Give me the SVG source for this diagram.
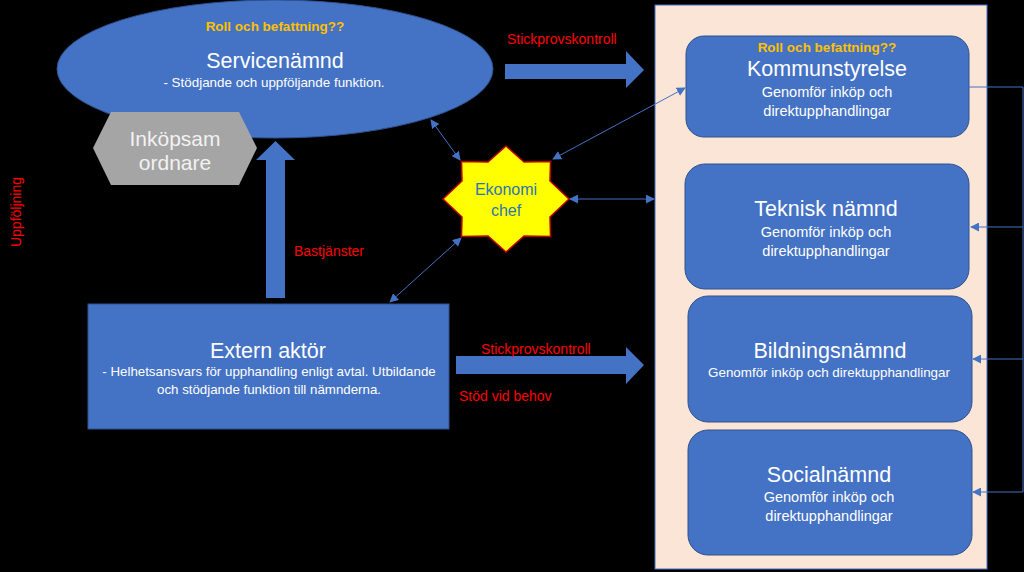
<svg xmlns="http://www.w3.org/2000/svg" width="1024" height="572" viewBox="0 0 1024 572">
<defs>
<style>
text{font-family:"Liberation Sans",Arial,sans-serif}
.w{fill:#ffffff}
.red{fill:#ff0000;font-size:14px}
.gold{fill:#ffc000;font-weight:bold;font-size:13.5px}
.title{font-size:21.5px}
.sub{font-size:14.5px}
.box{fill:#4472c4;stroke:#2f528f;stroke-width:1}
.conn{fill:none;stroke:#4472c4;stroke-width:1}
.block{fill:#4472c4}
</style>
<marker id="ah" viewBox="0 0 10 10" refX="9" refY="5" markerWidth="9" markerHeight="9" markerUnits="userSpaceOnUse" orient="auto-start-reverse">
<path d="M0,0 L10,5 L0,10 z" fill="#4472c4"/>
</marker>
</defs>
<rect x="0" y="0" width="1024" height="572" fill="#000000"/>

<g id="container">
<rect x="655" y="5" width="332" height="564" fill="#fbe5d6" stroke="#4472c4" stroke-width="1"/>
</g>

<g id="servicenamnd">
<ellipse cx="275" cy="69" rx="218" ry="69" class="box"/>
<text x="275" y="31" text-anchor="middle" class="gold">Roll och befattning??</text>
<text x="275" y="68" text-anchor="middle" class="w title">Servicenämnd</text>
<text x="274" y="87" text-anchor="middle" class="w" font-size="13.4">- Stödjande och uppföljande funktion.</text>
</g>

<g id="inkopsamordnare">
<polygon points="93,148 111,112 239,112 257,148 239,185 111,185" fill="#a5a5a5"/>
<text x="175" y="146" text-anchor="middle" fill="#f2f2f2" font-size="21">Inköpsam</text>
<text x="175" y="170" text-anchor="middle" fill="#f2f2f2" font-size="21">ordnare</text>
</g>

<g id="externaktor">
<rect x="88" y="304" width="361" height="125" class="box"/>
<text x="268" y="358" text-anchor="middle" class="w title">Extern aktör</text>
<text x="269" y="376" text-anchor="middle" class="w" font-size="13.3">- Helhetsansvars för upphandling enligt avtal. Utbildande</text>
<text x="269" y="394" text-anchor="middle" class="w" font-size="13.3">och stödjande funktion till nämnderna.</text>
</g>

<g id="ekonomichef">
<polygon points="506,146 524,162 550.5,161.5 550,181 569,199 550,217 550.5,236.5 524,236 506,252 488,236 461.5,236.5 462,217 443,199 462,181 461.5,161.5 488,162" fill="#ffff00" stroke="#c00000" stroke-width="1.5"/>
<text x="506" y="195" text-anchor="middle" fill="#2e75b6" font-size="16">Ekonomi</text>
<text x="506" y="216" text-anchor="middle" fill="#2e75b6" font-size="16">chef</text>
</g>

<g id="kommunstyrelse">
<rect x="686" y="36" width="283" height="101" rx="18" class="box"/>
<text x="827" y="52" text-anchor="middle" class="gold">Roll och befattning??</text>
<text x="827" y="76" text-anchor="middle" class="w title">Kommunstyrelse</text>
<text x="827" y="97" text-anchor="middle" class="w sub">Genomför inköp och</text>
<text x="827" y="116" text-anchor="middle" class="w sub">direktupphandlingar</text>
</g>

<g id="tekniskNamnd">
<rect x="685" y="164" width="284" height="125" rx="20" class="box"/>
<text x="826" y="216" text-anchor="middle" class="w title">Teknisk nämnd</text>
<text x="826" y="237" text-anchor="middle" class="w sub">Genomför inköp och</text>
<text x="826" y="256" text-anchor="middle" class="w sub">direktupphandlingar</text>
</g>

<g id="bildningsnamnd">
<rect x="688" y="296" width="284" height="126" rx="20" class="box"/>
<text x="830" y="358" text-anchor="middle" class="w title">Bildningsnämnd</text>
<text x="829" y="377" text-anchor="middle" class="w" font-size="13.4">Genomför inköp och direktupphandlingar</text>
</g>

<g id="socialnamnd">
<rect x="688" y="430" width="284" height="125" rx="20" class="box"/>
<text x="829" y="482" text-anchor="middle" class="w title">Socialnämnd</text>
<text x="829" y="502" text-anchor="middle" class="w sub">Genomför inköp och</text>
<text x="829" y="521" text-anchor="middle" class="w sub">direktupphandlingar</text>
</g>

<g id="connectors">
<polygon class="block" points="266,298 266,160 256,160 275.5,141 295,160 285,160 285,298"/>
<polygon class="block" points="505,64 626,64 626,51 644,70 626,88 626,79 505,79"/>
<polygon class="block" points="456,356 626,356 626,347 644,365 626,384 626,374 456,374"/>
<line class="conn" x1="431" y1="120" x2="460" y2="160" marker-start="url(#ah)" marker-end="url(#ah)"/>
<line class="conn" x1="685" y1="88" x2="553" y2="159" marker-start="url(#ah)" marker-end="url(#ah)"/>
<line class="conn" x1="570" y1="199" x2="654" y2="199" marker-start="url(#ah)" marker-end="url(#ah)"/>
<line class="conn" x1="461" y1="238" x2="390" y2="302" marker-start="url(#ah)" marker-end="url(#ah)"/>
<polyline class="conn" points="969,87 1023,87 1023,492"/>
<line class="conn" x1="1023" y1="227" x2="971" y2="227" marker-end="url(#ah)"/>
<line class="conn" x1="1023" y1="359" x2="973" y2="359" marker-end="url(#ah)"/>
<line class="conn" x1="1023" y1="492" x2="973" y2="492" marker-end="url(#ah)"/>
</g>

<g id="labels">
<text x="507" y="44" class="red">Stickprovskontroll</text>
<text x="294" y="256" class="red">Bastjänster</text>
<text x="481" y="354" class="red">Stickprovskontroll</text>
<text x="459" y="401" class="red">Stöd vid behov</text>
<text transform="translate(21,212) rotate(-90)" text-anchor="middle" class="red">Uppföljning</text>
</g>
</svg>
